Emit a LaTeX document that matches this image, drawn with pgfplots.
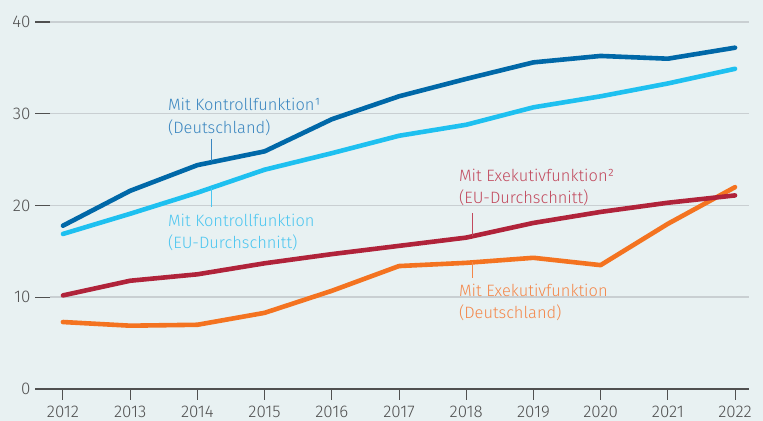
\documentclass[border=0pt]{standalone}
\usepackage{pgfplots}
\pgfplotsset{compat=1.18}
\usepackage{fontspec}
\setmainfont{Fira Sans Light}
\definecolor{bg}{HTML}{E8F1F2}
\definecolor{cdb}{HTML}{0068A8}
\definecolor{clb}{HTML}{1EC0F0}
\definecolor{cred}{HTML}{B0233A}
\definecolor{cor}{HTML}{F47320}
\definecolor{tdb}{HTML}{3A86C0}
\definecolor{tlb}{HTML}{4CC6F0}
\definecolor{tred}{HTML}{C24A5E}
\definecolor{tor}{HTML}{F4874A}
\definecolor{gridc}{HTML}{C9CFD2}
\definecolor{axc}{HTML}{505050}
\begin{document}
\begin{tikzpicture}
\fill[bg] (0,0) rectangle (763bp,421bp);
\path[use as bounding box] (0,0) rectangle (763bp,421bp);
\begin{axis}[
  at={(50bp,32bp)}, anchor=south west,
  scale only axis, width=699bp, height=367bp,
  xmin=-0.193, xmax=10.208, ymin=0, ymax=40,
  axis x line*=bottom, axis y line*=left,
  x axis line style={axc, line width=1.2bp, -},
  y axis line style={draw=none},
  xtick={0,...,10},
  xticklabels={2012,2013,2014,2015,2016,2017,2018,2019,2020,2021,2022},
  ytick={0,10,20,30,40},
  yticklabels={},
  ytick style={draw=none},
  tick align=outside,
  x tick style={axc, line width=1bp},
  major tick length=11bp,
  ymajorgrids, xmajorgrids=false, grid style={gridc, line width=1.5bp},
  tick label style={font=\fontsize{17}{20}\selectfont, color=axc},
  xticklabel style={yshift=-2.5bp},
  clip=false,
  every axis plot/.style={line width=4.6bp, line cap=round, line join=round},
]
\addplot[cor] coordinates {(0,7.3)(1,6.9)(2,7.0)(3,8.3)(4,10.7)(5,13.4)(6,13.75)(7,14.3)(8,13.5)(9,18.0)(10,22.0)};
\addplot[cred] coordinates {(0,10.2)(1,11.8)(2,12.5)(3,13.7)(4,14.7)(5,15.6)(6,16.5)(7,18.1)(8,19.3)(9,20.3)(10,21.1)};
\addplot[clb] coordinates {(0,16.9)(1,19.1)(2,21.4)(3,23.9)(4,25.7)(5,27.6)(6,28.8)(7,30.7)(8,31.9)(9,33.3)(10,34.9)};
\addplot[cdb] coordinates {(0,17.8)(1,21.6)(2,24.4)(3,25.9)(4,29.4)(5,31.9)(6,33.8)(7,35.6)(8,36.3)(9,36.0)(10,37.2)};
% y ticks drawn as short dashes left of the axis
\draw[axc, line width=1.2bp] (axis cs:-0.193,0) -- ([xshift=-15bp]axis cs:-0.193,0) node[left, inner sep=0pt, xshift=-4bp, font=\fontsize{17}{20}\selectfont, text=axc] {0};
\draw[axc, line width=1.2bp] (axis cs:-0.193,10) -- ([xshift=-15bp]axis cs:-0.193,10) node[left, inner sep=0pt, xshift=-4bp, font=\fontsize{17}{20}\selectfont, text=axc] {10};
\draw[axc, line width=1.2bp] (axis cs:-0.193,20) -- ([xshift=-15bp]axis cs:-0.193,20) node[left, inner sep=0pt, xshift=-4bp, font=\fontsize{17}{20}\selectfont, text=axc] {20};
\draw[axc, line width=1.2bp] (axis cs:-0.193,30) -- ([xshift=-15bp]axis cs:-0.193,30) node[left, inner sep=0pt, xshift=-4bp, font=\fontsize{17}{20}\selectfont, text=axc] {30};
\draw[axc, line width=1.2bp] (axis cs:-0.193,40) -- ([xshift=-15bp]axis cs:-0.193,40) node[left, inner sep=0pt, xshift=-4bp, font=\fontsize{17}{20}\selectfont, text=axc] {40};
% labels
\begin{scope}[every node/.style={anchor=base west, inner sep=0pt, font=\fontsize{16.5}{20}\selectfont}]
\node[text=tdb] at (axis cs:1.56,30.4) {Mit Kontrollfunktion¹};
\node[text=tdb] at (axis cs:1.56,27.9) {(Deutschland)};
\node[text=tlb] at (axis cs:1.56,17.7) {Mit Kontrollfunktion};
\node[text=tlb] at (axis cs:1.56,15.3) {(EU-Durchschnitt)};
\node[text=tred] at (axis cs:5.89,22.6) {Mit Exekutivfunktion²};
\node[text=tred] at (axis cs:5.89,20.2) {(EU-Durchschnitt)};
\node[text=tor] at (axis cs:5.89,10.05) {Mit Exekutivfunktion};
\node[text=tor] at (axis cs:5.89,7.65) {(Deutschland)};
\end{scope}
\draw[tdb, line width=1bp] (axis cs:2.217,27.25) -- (axis cs:2.217,24.8);
\draw[tlb, line width=1bp] (axis cs:2.217,21.9) -- (axis cs:2.217,19.84);
\draw[tred, line width=1bp] (axis cs:6.101,19.18) -- (axis cs:6.101,16.7);
\draw[tor, line width=1bp] (axis cs:6.101,13.8) -- (axis cs:6.101,12.1);
\end{axis}
\end{tikzpicture}
\end{document}
